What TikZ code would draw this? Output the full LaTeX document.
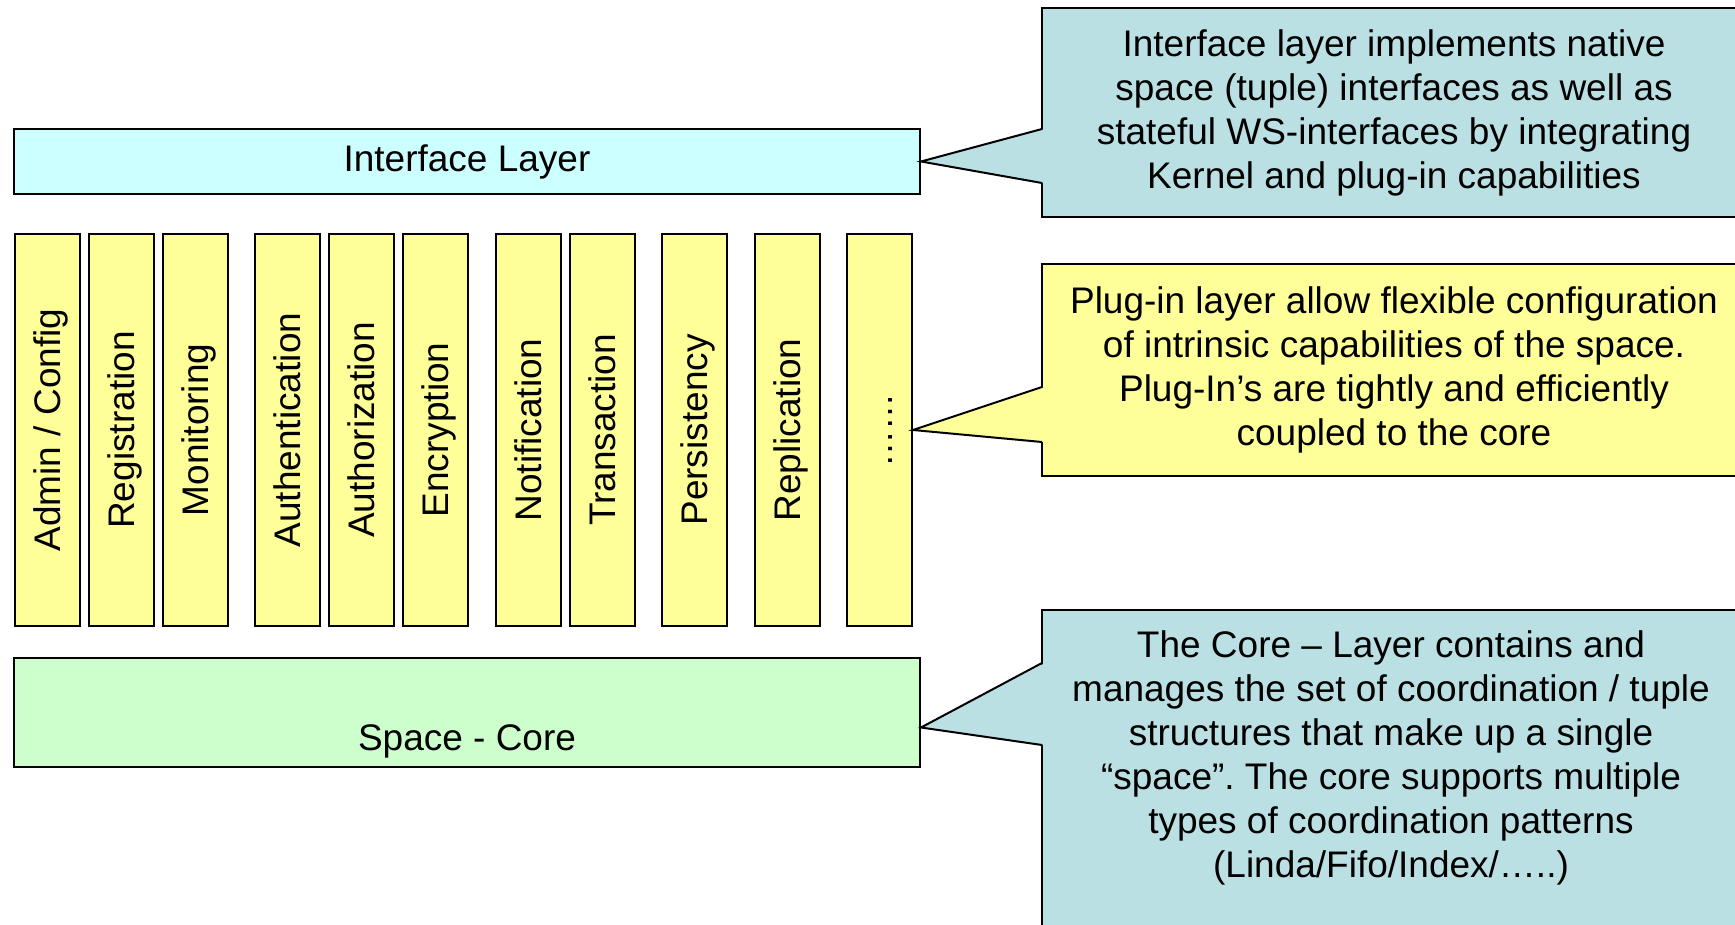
\documentclass[tikz,border=0pt]{standalone}
\usepackage{fontspec}
\setmainfont{Liberation Sans}
\usepackage{graphicx}
\usetikzlibrary{positioning}
\usetikzlibrary{calc}
\frenchspacing

\definecolor{ifacecyan}{HTML}{CCFFFF}
\definecolor{plugyellow}{HTML}{FFFF99}
\definecolor{coregreen}{HTML}{CCFFCC}
\definecolor{noteblue}{HTML}{BBE0E3}

% upright label for the narrow plug-in columns
\newcommand{\plugtext}[1]{\rotatebox{90}{\rule[-0.21em]{0pt}{1.12em}#1}}

\begin{document}
\begin{tikzpicture}[x=0.5pt, y=-0.5pt,
    every node/.style={font=\fontsize{18.5pt}{22pt}\selectfont},
    layer/.style={draw, rectangle, line width=1pt, minimum width=453pt},
    plugin/.style={draw, rectangle, line width=1pt, fill=plugyellow, minimum width=32.5pt, minimum height=196pt, inner sep=0pt},
    note/.style={draw, rectangle, line width=1pt, align=center, minimum width=352pt, anchor=north west}]
    \useasboundingbox (0,0) rectangle (1735,925);
    \clip (0,0) rectangle (1735,925);

    % layers
    \node (iface) [layer, fill=ifacecyan, minimum height=32.5pt] at (467,161.5) {Interface Layer};
    \node (core) [layer, fill=coregreen, minimum height=54.5pt] at (467,712.5) {};
    \node (corelabel) [anchor=base] at ([yshift=9pt]core.south) {Space - Core};

    % plug-ins
    \node (admin) [plugin, anchor=north west] at (14,233) {\plugtext{Admin / Config}};
    \node (registration) [plugin, right=3.5pt of admin] {\plugtext{Registration}};
    \node (monitoring) [plugin, right=3.5pt of registration] {\plugtext{Monitoring}};
    \node (authentication) [plugin, right=12.7pt of monitoring] {\plugtext{Authentication}};
    \node (authorization) [plugin, right=3.5pt of authentication] {\plugtext{Authorization}};
    \node (encryption) [plugin, right=3.5pt of authorization] {\plugtext{Encryption}};
    \node (notification) [plugin, right=12.7pt of encryption] {\plugtext{Notification}};
    \node (transaction) [plugin, right=3.5pt of notification] {\plugtext{Transaction}};
    \node (persistency) [plugin, right=12.7pt of transaction] {\plugtext{Persistency}};
    \node (replication) [plugin, right=12.7pt of persistency] {\plugtext{Replication}};
    \node (more) [plugin, right=12.7pt of replication] {\plugtext{……}};

    % notes
    \node (note1) [note, fill=noteblue, minimum height=104.5pt] at (1041,7)
        {Interface layer implements native\\space (tuple) interfaces as well as\\stateful WS-interfaces by integrating\\Kernel and plug-in capabilities};
    \node (note2) [note, fill=plugyellow, minimum height=106pt] at (1041,263)
        {Plug-in layer allow flexible configuration\\of intrinsic capabilities of the space.\\Plug-In’s are tightly and efficiently\\coupled to the core};
    \node (note3) [note, fill=noteblue, minimum height=170pt] at (1041,609) {};
    \node (note3text) [align=center] at (1391,758)
        {The Core – Layer contains and\\manages the set of coordination / tuple\\structures that make up a single\\“space”. The core supports multiple\\types of coordination patterns\\(Linda/Fifo/Index/…..)};

    % pointers
    \fill[noteblue] (iface.east) -- ($(note1.north west)+(4,122)$) -- ($(note1.north west)+(4,176)$) -- cycle;
    \draw[line width=1pt] ($(note1.north west)+(1,122)$) -- (iface.east) -- ($(note1.north west)+(1,176)$);

    \fill[plugyellow] (more.east) -- ($(note2.north west)+(4,124)$) -- ($(note2.north west)+(4,179)$) -- cycle;
    \draw[line width=1pt] ($(note2.north west)+(1,124)$) -- (more.east) -- ($(note2.north west)+(1,179)$);

    \fill[noteblue] ($(core.east)+(0,15)$) -- ($(note3.north west)+(4,54)$) -- ($(note3.north west)+(4,136)$) -- cycle;
    \draw[line width=1pt] ($(note3.north west)+(1,54)$) -- ($(core.east)+(0,15)$) -- ($(note3.north west)+(1,136)$);
\end{tikzpicture}
\end{document}
